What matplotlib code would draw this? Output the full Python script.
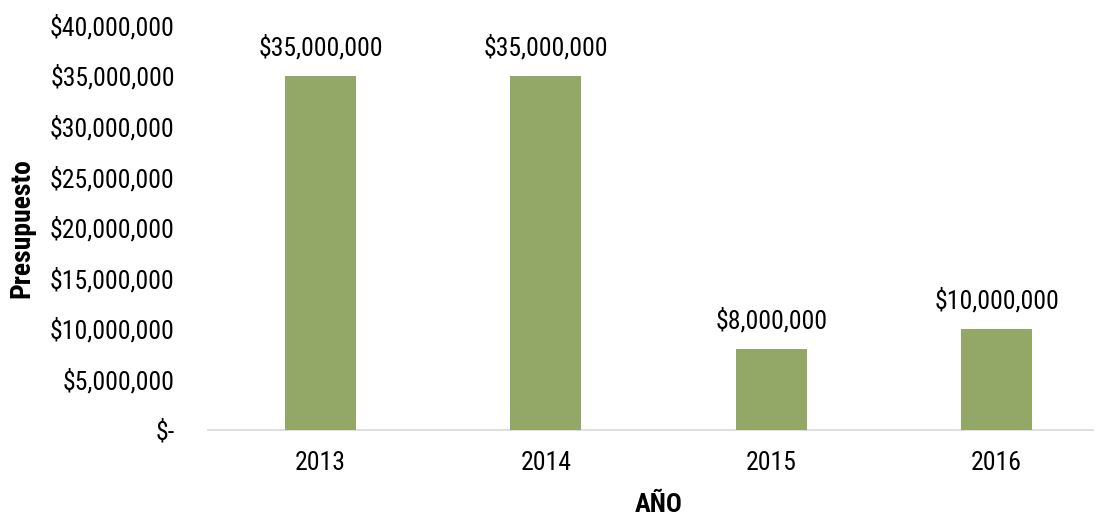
import matplotlib
matplotlib.use("Agg")
import matplotlib.pyplot as plt
from matplotlib import font_manager
from matplotlib.ticker import FuncFormatter

years = ["2013", "2014", "2015", "2016"]
budget = [35000000, 35000000, 8000000, 10000000]
yticks = [0, 5000000, 10000000, 15000000, 20000000, 25000000, 30000000, 35000000, 40000000]

names = {f.name for f in font_manager.fontManager.ttflist}
fam = next((n for n in ["Roboto Condensed", "Fira Sans Condensed", "Liberation Sans Narrow"] if n in names), "DejaVu Sans")
plt.rcParams["font.family"] = [fam, "DejaVu Sans"]

fig = plt.figure(figsize=(10.96, 5.17), dpi=100)
W, H = 1096, 517
left, right, top, bottom = 208, 1093, 25, 430
ax = fig.add_axes([left / W, 1 - bottom / H, (right - left) / W, (bottom - top) / H])

x = list(range(len(years)))
ax.bar(x, budget, width=0.315, color="#93A767", zorder=3)
step = 225.3
ax.set_xlim(-0.5, (right - left) / step - 0.5)
ax.set_ylim(0, 40000000)

def fmt(v, pos):
    return "$-" if v == 0 else "${:,.0f}".format(v)

FS = 18.5
ax.set_yticks(yticks)
ax.yaxis.set_major_formatter(FuncFormatter(fmt))
ax.set_xticks(x)
ax.set_xticklabels(years)
for s in ["top", "right", "left"]:
    ax.spines[s].set_visible(False)
ax.spines["bottom"].set_color("#D9D9D9")
ax.spines["bottom"].set_linewidth(1.2)
ax.tick_params(axis="both", length=0, labelsize=FS, colors="#000000")
ax.tick_params(axis="y", pad=24)
ax.tick_params(axis="x", pad=15)

for xi, v in zip(x, budget):
    ax.annotate("${:,.0f}".format(v), (xi, v), xytext=(0, 11), textcoords="offset points",
                ha="center", va="bottom", fontsize=FS)

fig.text(22 / W, 1 - 228 / H, "Presupuesto", rotation=90, ha="center", va="center",
         fontsize=20, fontweight="bold")
fig.text(659 / W, 1 - 505 / H, "AÑO", ha="center", va="center", fontsize=19, fontweight="bold")

fig.savefig("out.png", dpi=100)
